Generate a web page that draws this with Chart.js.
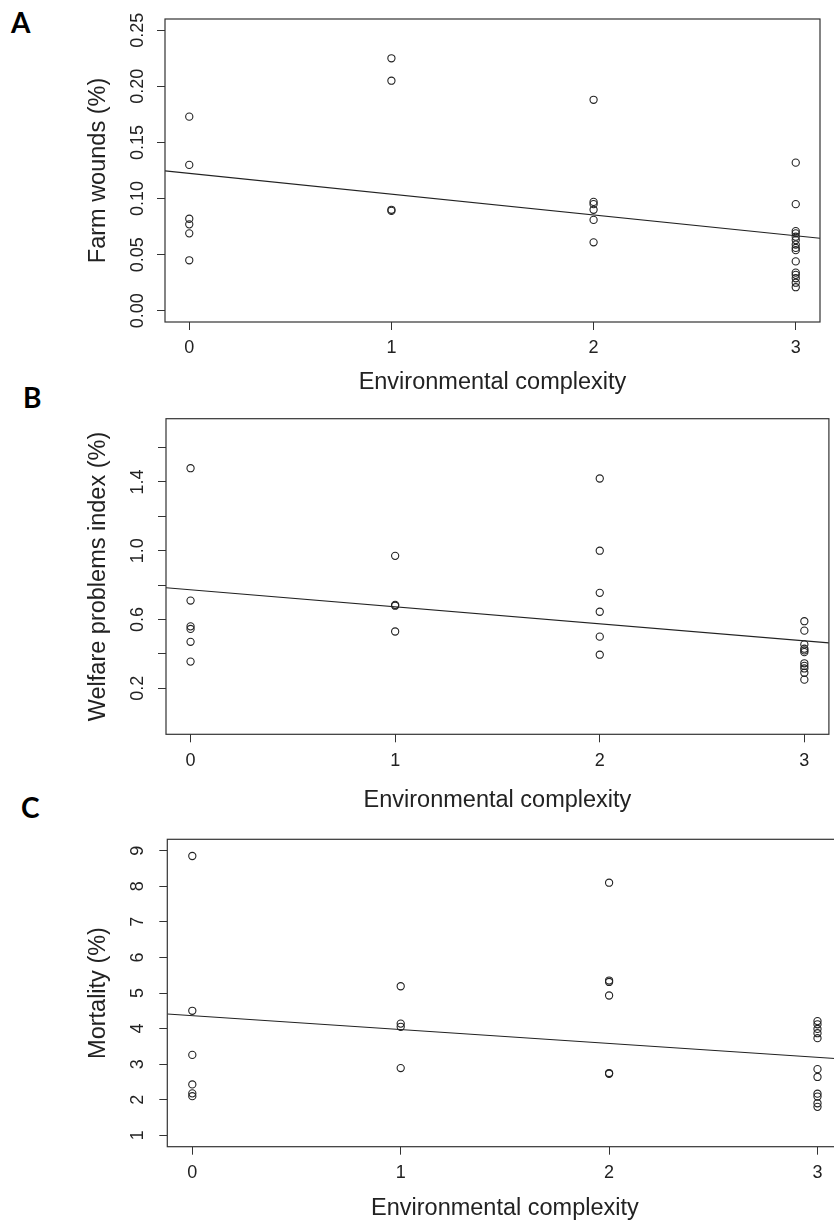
<!DOCTYPE html>
<html>
<head>
<meta charset="utf-8">
<script src="https://cdn.jsdelivr.net/npm/chart.js@4.4.0/dist/chart.umd.min.js"></script>
<style>
  html, body { margin: 0; padding: 0; background: #fff; }
  body { width: 834px; height: 1225px; overflow: hidden; position: relative; }
  .panel { position: absolute; left: 0; }
  .tag { position: absolute; font: bold 28px Lato, "Open Sans", sans-serif; line-height: 1; color: #000; }
</style>
</head>
<body>
<div class="tag" style="left:11px;top:7.5px">A</div>
<div class="tag" style="left:23px;top:382.5px">B</div>
<div class="tag" style="left:21px;top:792.5px">C</div>

<div class="panel" style="top:0;width:834px;height:400px"><canvas id="chartA"></canvas></div>
<div class="panel" style="top:400px;width:834px;height:420px"><canvas id="chartB"></canvas></div>
<div class="panel" style="top:820px;width:860px;height:405px"><canvas id="chartC"></canvas></div>

<script>
// environmental complexity levels (x) and axis range
var levels = [0, 1, 2, 3];
var xRange = [-0.12, 3.12];

// A - farm wounds (%), one list per complexity level
var woundsByLevel = [
  [0.173, 0.130, 0.082, 0.077, 0.069, 0.045],
  [0.225, 0.205, 0.090, 0.089],
  [0.188, 0.097, 0.095, 0.090, 0.081, 0.061],
  [0.132, 0.095, 0.071, 0.069, 0.066, 0.063, 0.059, 0.056, 0.054, 0.044, 0.034, 0.032, 0.029, 0.025, 0.021]
];
var woundsFit = [0.1247, 0.0646];      // fitted line at xRange ends
var woundsTicks = [0, 0.05, 0.10, 0.15, 0.20, 0.25];
var woundsRange = [-0.01, 0.26];

// B - welfare problems index (%)
var welfareByLevel = [
  [1.48, 0.71, 0.56, 0.545, 0.47, 0.355],
  [0.97, 0.685, 0.68, 0.53],
  [1.42, 1.00, 0.755, 0.645, 0.50, 0.395],
  [0.59, 0.535, 0.455, 0.43, 0.42, 0.41, 0.345, 0.33, 0.315, 0.29, 0.25]
];
var welfareFit = [0.785, 0.464];
var welfareTicks = [0.2, 0.4, 0.6, 0.8, 1.0, 1.2, 1.4, 1.6];
var welfareLabels = [0.2, 0.6, 1.0, 1.4];
var welfareRange = [-0.068, 1.768];

// C - mortality (%)
var mortalityByLevel = [
  [8.85, 4.50, 3.26, 2.43, 2.18, 2.10],
  [5.19, 4.14, 4.05, 2.89],
  [8.10, 5.35, 5.31, 4.93, 2.75, 2.73],
  [4.21, 4.12, 3.99, 3.87, 3.73, 2.86, 2.64, 2.17, 2.09, 1.90, 1.80]
];
var mortalityFit = [4.41, 3.144];
var mortalityTicks = [1, 2, 3, 4, 5, 6, 7, 8, 9];
var mortalityRange = [0.68, 9.32];

var fontFamily = '"Liberation Sans", Arial, sans-serif';

function toPoints(byLevel){
  var pts = [];
  byLevel.forEach(function(vals, i){
    vals.forEach(function(v){ pts.push({x: levels[i], y: v}); });
  });
  return pts;
}

// box round the plot + R style rotated y tick labels
var boxPlugin = {
  id: 'rbox',
  afterDraw: function(chart){
    var a = chart.chartArea, ctx = chart.ctx, ys = chart.scales.y;
    var cfg = chart.options.plugins.rbox;
    ctx.save();
    ctx.strokeStyle = '#333';
    ctx.lineWidth = 1.2;
    ctx.strokeRect(a.left, a.top, a.right - a.left, a.bottom - a.top);
    ctx.fillStyle = '#222';
    ctx.font = '18px ' + fontFamily;
    ctx.textAlign = 'center';
    ctx.textBaseline = 'middle';
    ys.ticks.forEach(function(t){
      if (cfg.labels.indexOf(t.value) < 0) return;
      var py = ys.getPixelForValue(t.value);
      ctx.save();
      ctx.translate(cfg.labelX, py);
      ctx.rotate(-Math.PI / 2);
      ctx.fillText(t.value.toFixed(cfg.digits), 0, 0);
      ctx.restore();
    });
    ctx.restore();
  }
};

function makePanel(id, byLevel, fit, p){
  new Chart(document.getElementById(id), {
    type: 'scatter',
    data: {
      datasets: [
        {
          data: toPoints(byLevel),
          pointStyle: 'circle',
          pointRadius: 3.6,
          borderColor: '#222',
          backgroundColor: 'rgba(0,0,0,0)',
          borderWidth: 1.1
        },
        {
          data: [{x: xRange[0], y: fit[0]}, {x: xRange[1], y: fit[1]}],
          showLine: true,
          pointRadius: 0,
          borderColor: '#222',
          borderWidth: 1.1,
          fill: false
        }
      ]
    },
    options: {
      responsive: true,
      maintainAspectRatio: false,
      animation: false,
      events: [],
      layout: { padding: p.padding },
      plugins: {
        legend: { display: false },
        tooltip: { enabled: false },
        rbox: { labels: p.yLabels, digits: p.digits, labelX: 138 }
      },
      scales: {
        x: {
          type: 'linear',
          min: xRange[0],
          max: xRange[1],
          afterBuildTicks: function(s){ s.ticks = levels.map(function(v){ return {value: v}; }); },
          afterFit: function(s){ s.height = p.xHeight; s.paddingLeft = 0; s.paddingRight = 0; },
          grid: { drawOnChartArea: false, tickLength: 8, color: '#333' },
          border: { display: false },
          ticks: { color: '#222', font: { family: fontFamily, size: 18 }, padding: p.xPad, maxRotation: 0, autoSkip: false },
          title: {
            display: true,
            text: 'Environmental complexity',
            color: '#222',
            font: { family: fontFamily, size: 23.5 },
            padding: { top: 0, bottom: p.titlePad }
          }
        },
        y: {
          type: 'linear',
          min: p.yRange[0],
          max: p.yRange[1],
          afterBuildTicks: function(s){ s.ticks = p.yTicks.map(function(v){ return {value: v}; }); },
          afterFit: function(s){ s.width = p.yWidth; s.paddingTop = 0; s.paddingBottom = 0; },
          grid: { drawOnChartArea: false, tickLength: 8, color: '#333' },
          border: { display: false },
          ticks: { display: false },
          title: {
            display: true,
            text: p.yTitle,
            color: '#222',
            font: { family: fontFamily, size: 23.5 },
            padding: { top: 84, bottom: 0 }
          }
        }
      }
    },
    plugins: [boxPlugin]
  });
}

makePanel('chartA', woundsByLevel, woundsFit, {
  padding: { top: 19, right: 14, bottom: 0, left: 0 },
  xHeight: 78, xPad: 7, titlePad: 3, yWidth: 165,
  yRange: woundsRange, yTicks: woundsTicks, yLabels: woundsTicks, digits: 2,
  yTitle: 'Farm wounds (%)'
});

makePanel('chartB', welfareByLevel, welfareFit, {
  padding: { top: 18.7, right: 4, bottom: 0, left: 0 },
  xHeight: 85.7, xPad: 8, titlePad: 5.4, yWidth: 166,
  yRange: welfareRange, yTicks: welfareTicks, yLabels: welfareLabels, digits: 1,
  yTitle: 'Welfare problems index (%)'
});

makePanel('chartC', mortalityByLevel, mortalityFit, {
  padding: { top: 19.3, right: 17.5, bottom: 0, left: 0 },
  xHeight: 78.3, xPad: 8, titlePad: 2, yWidth: 167.3,
  yRange: mortalityRange, yTicks: mortalityTicks, yLabels: mortalityTicks, digits: 0,
  yTitle: 'Mortality (%)'
});
</script>
</body>
</html>
